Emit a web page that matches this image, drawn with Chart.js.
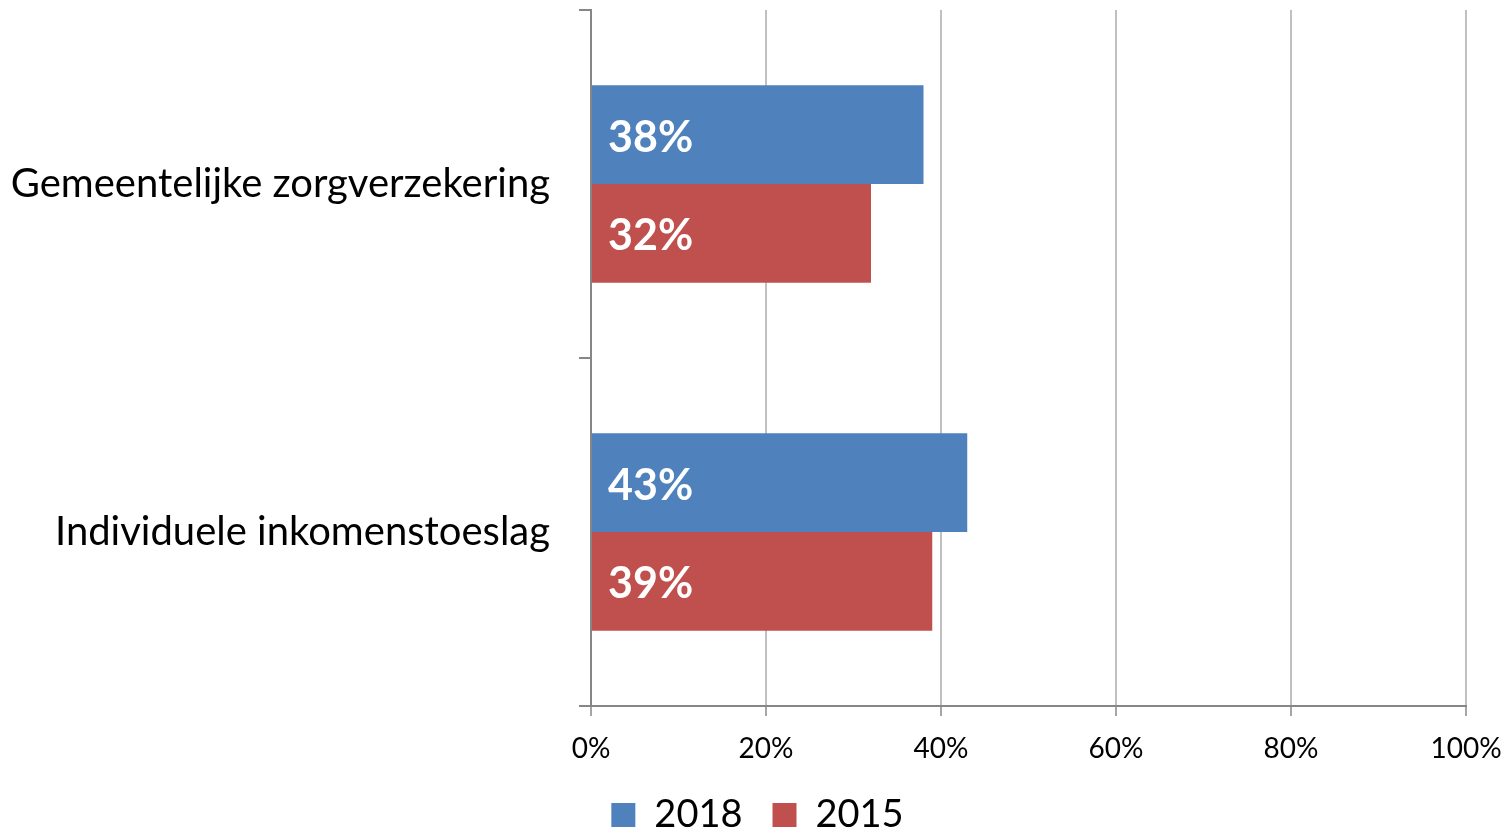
<!DOCTYPE html>
<html>
<head>
<meta charset="utf-8">
<script src="https://cdn.jsdelivr.net/npm/chart.js@4"></script>
<style>
  html, body { margin: 0; padding: 0; background: #fff; }
  #wrap { width: 1507px; height: 833px; }
</style>
</head>
<body>
<div id="wrap"><canvas id="myChart" width="1507" height="833"></canvas></div>
<script>
// data
var categories = ['Gemeentelijke zorgverzekering', 'Individuele inkomenstoeslag'];
var values2018 = [38, 43];
var values2015 = [32, 39];
var seriesNames = ['2018', '2015'];
var xTickStep = 20;

var FONT = 'Lato, "Open Sans", sans-serif';
var PAD_LEFT = 8;

// white bold value labels inside each bar, left aligned
var barLabels = {
    id: 'barLabels',
    afterDatasetsDraw: function (chart) {
        var ctx = chart.ctx;
        ctx.save();
        ctx.fillStyle = '#fff';
        ctx.font = 'bold 43px ' + FONT;
        ctx.textAlign = 'left';
        ctx.textBaseline = 'middle';
        chart.data.datasets.forEach(function (ds, i) {
            chart.getDatasetMeta(i).data.forEach(function (bar, j) {
                ctx.fillText(ds.data[j] + '%', bar.base + 16, bar.y + 3);
            });
        });
        ctx.restore();
    }
};

var ctx = document.getElementById('myChart').getContext('2d');
var myChart = new Chart(ctx, {
    type: 'bar',
    data: {
        labels: categories,
        datasets: [{
            label: seriesNames[0],
            data: values2018,
            backgroundColor: '#4F81BD'
        }, {
            label: seriesNames[1],
            data: values2015,
            backgroundColor: '#C0504D'
        }]
    },
    options: {
        indexAxis: 'y',
        responsive: false,
        animation: false,
        layout: { padding: { top: 10, right: 0, left: PAD_LEFT, bottom: 0 } },
        datasets: {
            bar: { categoryPercentage: 0.567, barPercentage: 1 }
        },
        scales: {
            x: {
                min: 0,
                max: 100,
                ticks: {
                    stepSize: xTickStep,
                    color: '#000',
                    padding: 16,
                    font: { family: FONT, size: 28 },
                    callback: function (v) { return v + '%'; }
                },
                grid: {
                    color: '#C0C0C0',
                    lineWidth: 2,
                    tickLength: 10,
                    tickColor: '#A6A6A6'
                },
                border: { color: '#868686', width: 2 },
                afterFit: function (scale) {
                    scale.height = 60;
                    scale.paddingLeft = 0;
                    scale.paddingRight = 0;
                }
            },
            y: {
                ticks: {
                    color: '#000',
                    padding: 29,
                    font: { family: FONT, size: 40 }
                },
                grid: {
                    offset: true,
                    drawOnChartArea: false,
                    tickLength: 12,
                    tickColor: '#868686',
                    lineWidth: 2
                },
                border: { color: '#868686', width: 2 },
                afterFit: function (scale) {
                    scale.width = 591 - PAD_LEFT;
                    scale.paddingTop = 0;
                    scale.paddingBottom = 0;
                }
            },
            // empty strip on the right so the plot ends at 100% like the original
            yRight: {
                type: 'category',
                position: 'right',
                grid: { display: false },
                border: { display: false },
                ticks: { display: false },
                afterFit: function (scale) {
                    scale.width = 41;
                    scale.paddingTop = 0;
                    scale.paddingBottom = 0;
                }
            }
        },
        plugins: {
            legend: {
                position: 'bottom',
                maxHeight: 67,
                labels: {
                    color: '#000',
                    boxWidth: 24,
                    boxHeight: 24,
                    padding: 30,
                    font: { family: FONT, size: 38 }
                }
            },
            tooltip: { enabled: false }
        }
    },
    plugins: [barLabels]
});
</script>
</body>
</html>
